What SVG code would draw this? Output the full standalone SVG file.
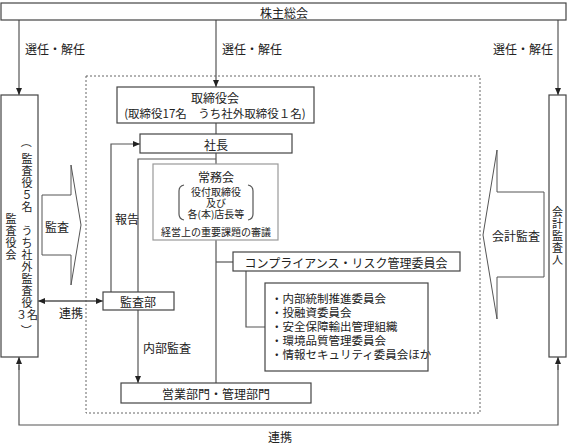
<svg xmlns="http://www.w3.org/2000/svg" width="568" height="445" viewBox="0 0 568 445">
<style>
text{font-family:"Noto Sans CJK JP","Noto Sans CJK SC",sans-serif;font-size:12px;fill:#222;}
.c{text-anchor:middle;dominant-baseline:central;}
.s{dominant-baseline:central;}
.vt{font-size:11px;text-anchor:middle;dominant-baseline:central;}
.sm{font-size:10px;}
.li{font-size:11.5px;}
.box{fill:#fff;stroke:#444;stroke-width:1.2;}
.gbox{fill:#fff;stroke:#999;stroke-width:1.2;}
.ln{fill:none;stroke:#555;stroke-width:1.2;}
.dot{fill:none;stroke:#666;stroke-width:1;stroke-dasharray:2,2;}
.blk{fill:#fff;stroke:#555;stroke-width:1;}
</style>
<defs>
<marker id="ah" markerWidth="8" markerHeight="8" refX="7" refY="4" orient="auto" markerUnits="userSpaceOnUse">
<path d="M0,1 L7,4 L0,7 Z" fill="#222"/>
</marker>
</defs>
<rect class="dot" x="86" y="76" width="394" height="337"/>
<g id="connectors">
<line class="ln" x1="19" y1="20" x2="19" y2="95" marker-end="url(#ah)"/>
<line class="ln" x1="216" y1="20" x2="216" y2="87" marker-end="url(#ah)"/>
<line class="ln" x1="558" y1="20" x2="558" y2="95" marker-end="url(#ah)"/>
<line class="ln" x1="216" y1="123" x2="216" y2="134"/>
<line class="ln" x1="216" y1="153" x2="216" y2="164"/>
<polyline class="ln" points="216,159 138,159 138,292"/>
<polyline class="ln" points="111,292 111,144 140,144" marker-end="url(#ah)"/>
<line class="ln" x1="216" y1="240" x2="216" y2="383"/>
<line class="ln" x1="216" y1="262" x2="233" y2="262"/>
<polyline class="ln" points="246,271 246,327 265,327"/>
<line class="ln" x1="138" y1="310" x2="138" y2="383" marker-end="url(#ah)"/>
<line class="ln" x1="45" y1="301" x2="103" y2="301" marker-end="url(#ah)"/>
<line class="ln" x1="96" y1="301" x2="38" y2="301" marker-end="url(#ah)"/>
<polyline class="ln" points="19,365 19,425 558,425 558,365"/>
<line class="ln" x1="19" y1="370" x2="19" y2="357" marker-end="url(#ah)"/>
<line class="ln" x1="558" y1="370" x2="558" y2="357" marker-end="url(#ah)"/>
<text x="25" y="48" class="s">選任・解任</text>
<text x="222" y="48" class="s">選任・解任</text>
<text x="493" y="48" class="s">選任・解任</text>
<text x="127" y="218" class="c">報告</text>
<text x="71" y="312" class="c">連携</text>
<text x="143" y="347" class="s">内部監査</text>
<text x="280" y="436" class="c">連携</text>
</g>
<g id="shareholders">
<rect class="box" x="1" y="3" width="565" height="17"/>
<text x="284" y="12" class="c">株主総会</text>
</g>
<g id="kansayakukai">
<rect class="box" x="1" y="95" width="37" height="262"/>
<text class="vt" x="11 11 11 11" y="218 230 242 254">監査役会</text>
<text class="vt" transform="rotate(90 27 142)" x="27" y="142">（</text>
<text class="vt" x="27 27 27 27 27 27 27 27 27 27 27 27 27 27" y="158 170 182 194 206 218 230 242 254 266 278 290 302 314">監査役５名　うち社外監査役３名</text>
<text class="vt" transform="rotate(90 27 330)" x="27" y="330">）</text>
</g>
<g id="kaikei-kansanin">
<rect class="box" x="549" y="95" width="17" height="262"/>
<text class="vt" x="557.5 557.5 557.5 557.5 557.5" y="211 223 235 247 259">会計監査人</text>
</g>
<g id="kansa-arrow">
<polygon class="blk" points="42,195 71,195 71,165 81,225 71,285 71,255 42,255"/>
<text x="57" y="226" class="c">監査</text>
</g>
<g id="kaikei-arrow">
<polygon class="blk" points="544,192 497,192 497,150 483,235 497,319 497,277 544,277"/>
<text x="516" y="235" class="c">会計監査</text>
</g>
<g id="board">
<rect class="box" x="117" y="87" width="197" height="36"/>
<text x="215" y="97" class="c">取締役会</text>
<text x="215" y="113" class="c li">(取締役17名　うち社外取締役１名)</text>
</g>
<g id="president">
<rect class="box" x="140" y="134" width="152" height="19"/>
<text x="216" y="144" class="c">社長</text>
</g>
<g id="jomukai">
<rect class="gbox" x="153" y="164" width="125" height="76"/>
<text x="216" y="176" class="c">常務会</text>
<path class="ln" d="M184,185 Q179,186 179,191 L179,214 Q179,219 184,220"/>
<path class="ln" d="M248,185 Q253,186 253,191 L253,214 Q253,219 248,220"/>
<text x="216" y="191" class="c sm">役付取締役</text>
<text x="216" y="202" class="c sm">及び</text>
<text x="216" y="213" class="c sm">各(本)店長等</text>
<text x="216" y="231" class="c sm">経営上の重要課題の審議</text>
</g>
<g id="compliance">
<rect class="box" x="233" y="252" width="227" height="19"/>
<text x="346" y="262" class="c">コンプライアンス・リスク管理委員会</text>
</g>
<g id="committees">
<rect class="box" x="265" y="283" width="163" height="88"/>
<text x="271" y="298" class="s li">・内部統制推進委員会</text>
<text x="271" y="312" class="s li">・投融資委員会</text>
<text x="271" y="326" class="s li">・安全保障輸出管理組織</text>
<text x="271" y="340" class="s li">・環境品質管理委員会</text>
<text x="271" y="354" class="s li">・情報セキュリティ委員会ほか</text>
</g>
<g id="kansabu">
<rect class="box" x="103" y="292" width="71" height="18"/>
<text x="138" y="301" class="c">監査部</text>
</g>
<g id="divisions">
<rect class="box" x="121" y="383" width="190" height="20"/>
<text x="216" y="393" class="c">営業部門・管理部門</text>
</g>
</svg>
